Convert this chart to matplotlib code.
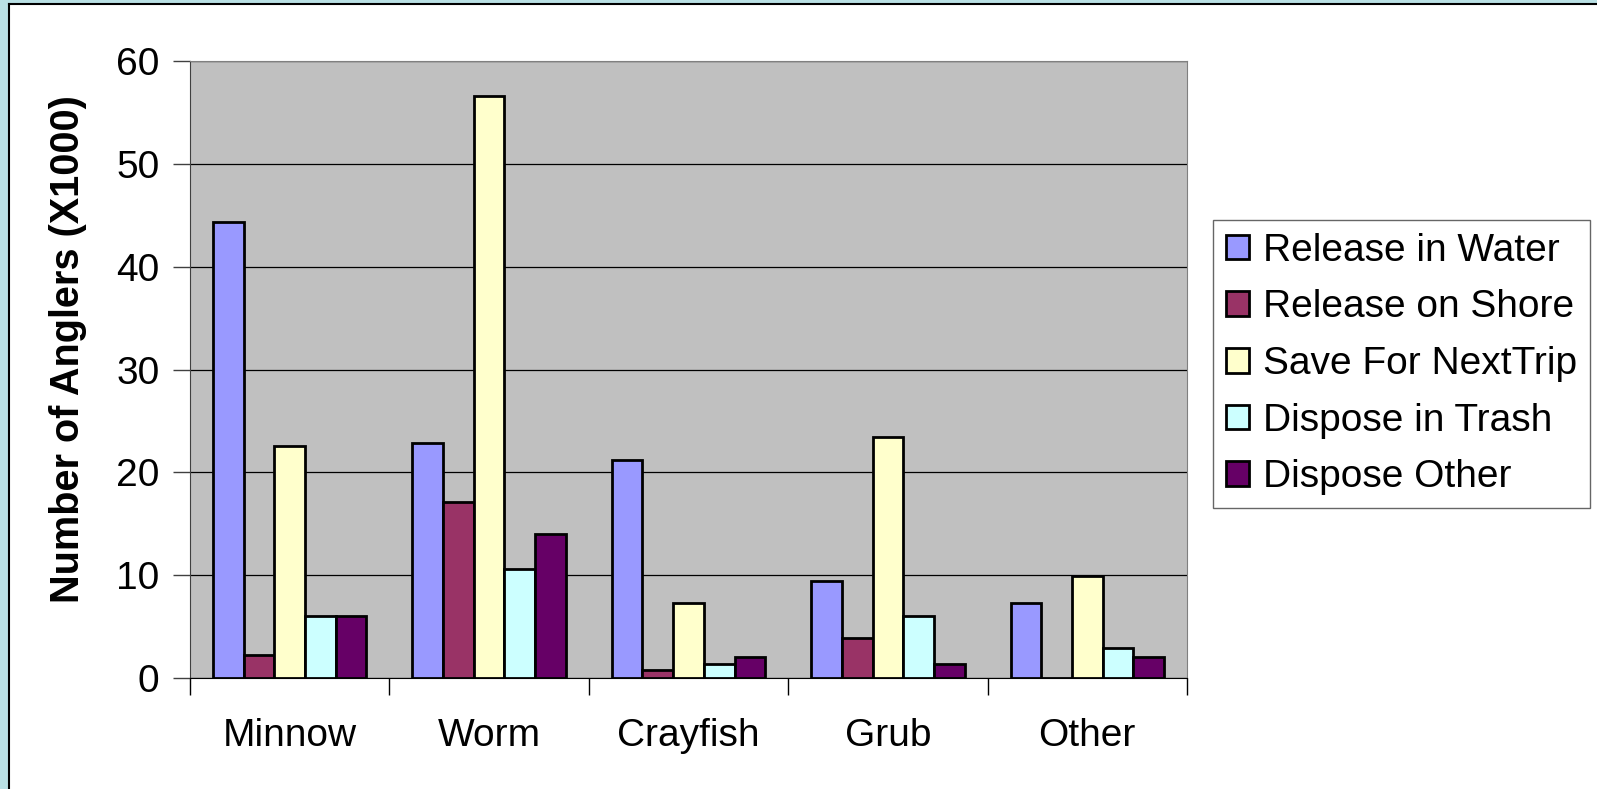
import numpy as np
import matplotlib.pyplot as plt
from matplotlib.patches import Rectangle, Patch
from matplotlib.lines import Line2D

plt.rcParams['font.family'] = ['Liberation Sans', 'DejaVu Sans']

categories = ["Minnow", "Worm", "Crayfish", "Grub", "Other"]
series = ["Release in Water", "Release on Shore", "Save For NextTrip",
          "Dispose in Trash", "Dispose Other"]
release_water = [44.3, 22.9, 21.2, 9.4, 7.3]
release_shore = [2.2, 17.1, 0.8, 3.9, 0.0]
save_next = [22.6, 56.6, 7.3, 23.4, 9.9]
dispose_trash = [6.0, 10.6, 1.4, 6.0, 2.9]
dispose_other = [6.0, 14.0, 2.0, 1.4, 2.0]
colors = ["#9999FF", "#993366", "#FFFFCC", "#CCFFFF", "#660066"]
yticks = [0, 10, 20, 30, 40, 50, 60]

values = [release_water, release_shore, save_next, dispose_trash, dispose_other]

fig = plt.figure(figsize=(15.97, 7.89), dpi=100)
fig.patch.set_facecolor("white")

# light blue frame on left / top with black inner line
fig.patches.append(Rectangle((0, 0), 8 / 1597, 1, transform=fig.transFigure,
                             facecolor="#B9E0E4", edgecolor="none", zorder=0))
fig.patches.append(Rectangle((0, 1 - 3 / 789), 1, 3 / 789, transform=fig.transFigure,
                             facecolor="#B9E0E4", edgecolor="none", zorder=0))
fig.lines.append(Line2D([8.5 / 1597, 8.5 / 1597], [0, 1 - 3.5 / 789], transform=fig.transFigure,
                        color="black", lw=1.5))
fig.lines.append(Line2D([8.5 / 1597, 1], [1 - 4 / 789, 1 - 4 / 789], transform=fig.transFigure,
                        color="black", lw=1.5))

ax = fig.add_axes([190 / 1597, 1 - 678 / 789, (1187 - 190) / 1597, (678 - 61) / 789])
ax.set_facecolor("#C0C0C0")

x = np.arange(len(categories))
w = 1 / 6.5
for i, (vals, c, name) in enumerate(zip(values, colors, series)):
    ax.bar(x - 2.5 * w + (i + 0.5) * w, vals, width=w, color=c,
           edgecolor="black", linewidth=2.0, label=name, zorder=3)

ax.set_xlim(-0.5, len(categories) - 0.5)
ax.set_ylim(0, 60)
ax.set_yticks(yticks)
ax.yaxis.grid(True, color="black", linewidth=0.9, zorder=0)
ax.set_axisbelow(True)

ax.set_xticks(np.arange(len(categories) + 1) - 0.5, minor=False)
ax.set_xticklabels([])
ax.set_xticks(x, minor=True)
ax.set_xticklabels(categories, minor=True, fontsize=28)
ax.tick_params(axis="x", which="major", length=12, width=1, color="black", direction="out")
ax.tick_params(axis="x", which="minor", length=0, pad=29)
ax.tick_params(axis="y", length=12, width=1, labelsize=28, pad=10, color="#404040")

for s in ["top", "right"]:
    ax.spines[s].set_color("#808080")
ax.spines["left"].set_color("#404040")
ax.spines["bottom"].set_color("black")

ax.set_ylabel("Number of Anglers (X1000)", fontsize=28.5, fontweight="bold")
ax.yaxis.set_label_coords(-103 / 997, 0.533)

handles = [Patch(facecolor=c, edgecolor="black", linewidth=2.0) for c in colors]
leg = fig.legend(handles, series, loc="upper left",
                 bbox_to_anchor=(1213 / 1597, 1 - 220 / 789),
                 fontsize=28, frameon=True, fancybox=False, edgecolor="#404040",
                 handlelength=0.6, handleheight=0.6, handletextpad=0.36,
                 labelspacing=0.53, borderpad=0.33, borderaxespad=0)
leg.get_frame().set_linewidth(1.0)

fig.savefig("out.png", dpi=100)
